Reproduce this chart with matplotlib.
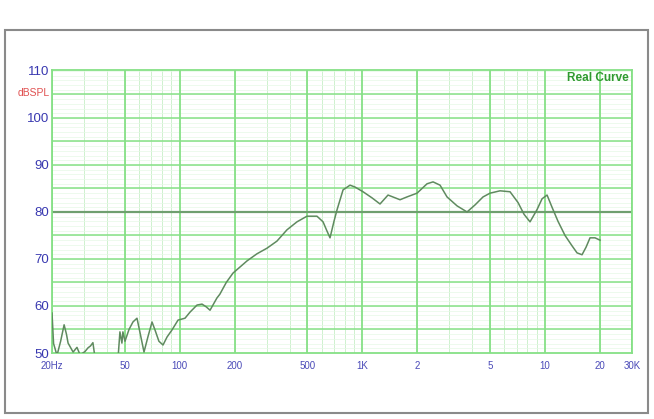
import matplotlib
matplotlib.use('Agg')
import matplotlib.pyplot as plt
import numpy as np
from matplotlib.patches import Rectangle

plt.rcParams['font.family'] = ['Liberation Sans', 'DejaVu Sans']

freq = [20, 20.4, 21.3, 22.3, 23.3, 24.0, 24.5, 26.1, 27.4, 28.5, 30.3, 31.5, 32.5, 33.5, 34.4,
        40, 46, 47.1, 48.3, 48.9, 50.2, 52.8, 55.5, 58.4, 60.7, 63.8, 67.1, 70.6, 73.3, 77,
        81.1, 85.3, 90.8, 98, 107, 114, 124.5, 132.6, 140, 146.7, 160, 166, 180, 196, 234,
        265, 301, 341, 387, 439, 498, 565, 610, 640, 666, 700, 728, 785, 857, 913, 1010,
        1131, 1251, 1384, 1610, 1758, 1995, 2264, 2442, 2667, 2912, 3304, 3748, 4146, 4585,
        5010, 5683, 6446, 7130, 7692, 8294, 9058, 9650, 10280, 10946, 11804, 12896, 14084,
        15002, 15978, 16804, 17672, 18820, 20050]
spl = [58.5, 52.0, 49.5, 52.5, 56.0, 54.0, 52.1, 50.2, 51.2, 49.6, 50.3, 51.1, 51.5, 52.2, 49.0,
       48.5, 49.0, 54.5, 52.1, 54.5, 52.5, 55.0, 56.6, 57.4, 54.3, 50.2, 53.5, 56.6, 54.9, 52.5,
       51.7, 53.4, 54.9, 57.0, 57.4, 58.7, 60.2, 60.4, 59.8, 59.1, 61.7, 62.5, 65.0, 67.0, 69.6,
       71.1, 72.3, 73.8, 76.2, 77.9, 79.1, 79.1, 77.9, 76.0, 74.5, 78.0, 80.5, 84.7, 85.7, 85.3, 84.3,
       83.0, 81.7, 83.6, 82.6, 83.2, 84.0, 86.0, 86.4, 85.7, 83.2, 81.3, 80.0, 81.5, 83.2,
       84.0, 84.5, 84.3, 82.0, 79.5, 77.9, 80.5, 82.8, 83.6, 81.0, 78.0, 75.0, 72.8,
       71.3, 70.9, 72.5, 74.5, 74.5, 74.0]

x_ticks = [20, 50, 100, 200, 500, 1000, 2000, 5000, 10000, 20000, 30000]
x_labels = ['20Hz', '50', '100', '200', '500', '1K', '2', '5', '10', '20', '30K']
y_ticks = [50, 60, 70, 80, 90, 100, 110]
y_labels = ['50', '60', '70', '80', '90', '100', '110']

W, H = 654, 419
fig = plt.figure(figsize=(W / 100, H / 100), dpi=100)
fig.patch.set_facecolor('white')
ax = fig.add_axes([52 / W, 1 - 353 / H, 580 / W, 283 / H])
ax.set_xscale('log')
ax.set_xlim(20, 30000)
ax.set_ylim(50, 110.2)

# grid
for dec in [10, 100, 1000, 10000]:
    for k in range(2, 10):
        v = dec * k
        if 20 < v < 30000:
            ax.axvline(v, color='#c6efc6', lw=0.6, zorder=0)
for v in np.arange(50, 111, 1):
    ax.axhline(v, color='#e6f8e6', lw=0.5, zorder=0)
for v in np.arange(55, 110, 5):
    ax.axhline(v, color='#86e086', lw=1.1, zorder=1)
for v in x_ticks:
    ax.axvline(v, color='#86e086', lw=1.3, zorder=1)
ax.axhline(80, color='#6f9f6f', lw=1.6, zorder=1)

ax.plot(freq, spl, color='#5f8a5f', lw=1.1, zorder=3)

ax.set_xticks(x_ticks)
ax.set_xticklabels(x_labels)
ax.xaxis.set_minor_locator(matplotlib.ticker.NullLocator())
ax.set_yticks(y_ticks)
ax.set_yticklabels(y_labels)
ax.tick_params(axis='x', length=0, pad=6, labelsize=7, colors='#4a4ab8')
ax.tick_params(axis='y', length=0, pad=2, labelsize=9.5, colors='#3838b0')
for s in ax.spines.values():
    s.set_color('#86e086')
    s.set_linewidth(1.3)

ax.text(0.995, 0.972, 'Real Curve', transform=ax.transAxes, ha='right', va='center',
        fontsize=8.5, fontweight='bold', color='#2f9a2f')
fig.text(50 / W, 1 - 93 / H, 'dBSPL', ha='right', va='center', fontsize=7.5, color='#e05050')

fig.patches.append(Rectangle((5 / W, 1 - 413 / H), 643 / W, 383 / H, transform=fig.transFigure,
                             fill=False, ec='#8a8a8a', lw=1.5))

fig.savefig('out.png', dpi=100)
